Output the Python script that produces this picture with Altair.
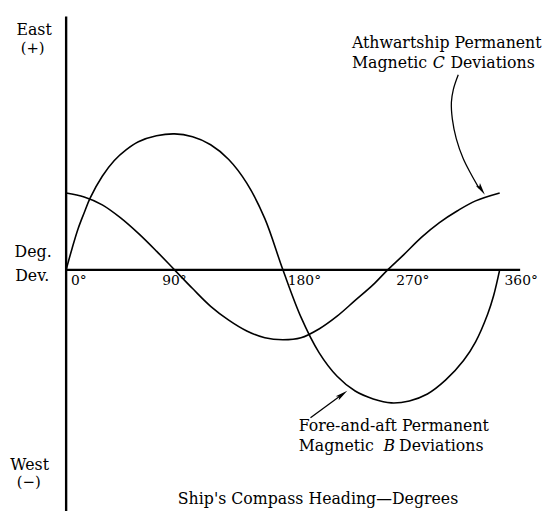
import altair as alt
import pandas as pd

# Fore-and-aft permanent magnetic B deviations (heading deg, deviation in arbitrary units)
heading_b = [0, 5, 10, 15, 20, 30, 40, 50, 60, 75, 90, 105, 120, 135, 150, 165, 180,
             195, 210, 225, 240, 255, 270, 285, 300, 315, 330, 340, 350, 355, 360]
dev_b = [0, 22, 42, 58, 73, 95, 111, 122, 130, 136, 138, 135, 127, 112, 88, 52, 0,
         -48, -84, -108, -123, -131, -135, -133, -126, -112, -92, -73, -45, -26, 0]

# Athwartship permanent magnetic C deviations
heading_c = [0, 15, 30, 45, 60, 75, 90, 105, 120, 135, 150, 165, 180, 195, 210, 225,
             240, 255, 267, 280, 295, 310, 325, 340, 360]
dev_c = [78, 74, 66, 53, 37, 19, 0, -19, -37, -51, -62, -69, -71, -69, -60, -47,
         -31, -15, 0, 15, 33, 48, 60, 70, 78]

tick_values = [0, 90, 180, 270, 360]
tick_labels = ["0°", "90°", "180°", "270°", "360°"]

# axis lines (data units)
hline_x = [0, 377]
vline_y = [257, -250]

# annotation arrows (data units)
arrow_c_x = [325.6, 321.5, 319.9, 320.7, 324.0, 329.7, 336.3, 342.8]
arrow_c_y = [198, 183, 170, 153, 133, 113, 97, 83]
arrow_b_x = [202.9, 227.5]
arrow_b_y = [-150, -128]
head_x = [344.8, 229.3]
head_y = [81.4, -126.5]
head_angle = [146, 54]

# texts
word_text = ["East", "Deg.", "Dev.", "West"]
word_x = [-26.6, -27.4, -28.2, -30.3]
word_y = [238, 13, -11, -203]
sign_text = ["(+)", "(−)"]
sign_x = [-27.8, -31.0]
sign_y = [220, -220]

note_text = ["Athwartship Permanent", "Magnetic", "Deviations",
             "Fore-and-aft Permanent", "Magnetic", "Deviations"]
note_x = [237.3, 237.3, 319.1, 193.1, 193.1, 276.5]
note_y = [225, 205, 205, -164, -184, -184]
ital_text = ["C", "B"]
ital_x = [304.4, 263.5]
ital_y = [205, -184]

title_text = ["Ship's Compass Heading—Degrees"]
title_x = [325.6]
title_y = [-238]

FONT = "DejaVu Serif"
xs = alt.Scale(domain=[0, 360], range=[59, 499], nice=False, zero=False)
ys = alt.Scale(domain=[-100, 100], range=[362, 162], nice=False, zero=False)
X = lambda f: alt.X(f, type="quantitative", scale=xs, axis=None)
Y = lambda f: alt.Y(f, type="quantitative", scale=ys, axis=None)

df_b = pd.DataFrame({"h": heading_b, "d": dev_b})
df_c = pd.DataFrame({"h": heading_c, "d": dev_c})

curve_b = alt.Chart(df_b).mark_line(color="black", strokeWidth=1.6, interpolate="catmull-rom").encode(x=X("h"), y=Y("d"))
curve_c = alt.Chart(df_c).mark_line(color="black", strokeWidth=1.6, interpolate="catmull-rom").encode(x=X("h"), y=Y("d"))

hline = alt.Chart(pd.DataFrame({"x": [hline_x[0]], "x2": [hline_x[1]], "y": [0]})).mark_rule(
    color="black", strokeWidth=2.2).encode(x=X("x"), x2="x2", y=Y("y"))
vline = alt.Chart(pd.DataFrame({"x": [0], "y": [vline_y[0]], "y2": [vline_y[1]]})).mark_rule(
    color="black", strokeWidth=2.4).encode(x=X("x"), y=Y("y"), y2="y2")

arr_c = alt.Chart(pd.DataFrame({"x": arrow_c_x, "y": arrow_c_y, "o": list(range(len(arrow_c_x)))})).mark_line(
    color="black", strokeWidth=1.3, interpolate="catmull-rom").encode(x=X("x"), y=Y("y"), order="o")
arr_b = alt.Chart(pd.DataFrame({"x": arrow_b_x, "y": arrow_b_y})).mark_line(
    color="black", strokeWidth=1.3).encode(x=X("x"), y=Y("y"))
heads = alt.Chart(pd.DataFrame({"x": head_x, "y": head_y, "a": head_angle})).mark_point(
    shape="M0,-1L0.4,1L0,0.6L-0.4,1Z", filled=True, color="black", opacity=1, size=160).encode(
    x=X("x"), y=Y("y"), angle=alt.Angle("a:Q", scale=None))

df_ticks = pd.DataFrame({"x": tick_values, "t": tick_labels, "y": [-15] * 5})
ticks_left = alt.Chart(df_ticks).transform_filter("datum.x != 90").mark_text(
    font=FONT, fontSize=14, align="left", baseline="alphabetic", dx=5, color="black").encode(
    x=X("x"), y=Y("y"), text="t:N")
ticks_mid = alt.Chart(df_ticks).transform_filter("datum.x == 90").mark_text(
    font=FONT, fontSize=14, align="center", baseline="alphabetic", dx=0, color="black").encode(
    x=X("x"), y=Y("y"), text="t:N")

words = alt.Chart(pd.DataFrame({"x": word_x, "y": word_y, "t": word_text})).mark_text(
    font=FONT, fontSize=16, align="center", baseline="alphabetic", color="black").encode(
    x=X("x"), y=Y("y"), text="t:N")
signs = alt.Chart(pd.DataFrame({"x": sign_x, "y": sign_y, "t": sign_text})).mark_text(
    font=FONT, fontSize=15, align="center", baseline="alphabetic", color="black").encode(
    x=X("x"), y=Y("y"), text="t:N")
notes = alt.Chart(pd.DataFrame({"x": note_x, "y": note_y, "t": note_text})).mark_text(
    font=FONT, fontSize=16, align="left", baseline="alphabetic", color="black").encode(
    x=X("x"), y=Y("y"), text="t:N")
itals = alt.Chart(pd.DataFrame({"x": ital_x, "y": ital_y, "t": ital_text})).mark_text(
    font=FONT, fontSize=16, fontStyle="italic", align="left", baseline="alphabetic", color="black").encode(
    x=X("x"), y=Y("y"), text="t:N")
title = alt.Chart(pd.DataFrame({"x": title_x, "y": title_y, "t": title_text})).mark_text(
    font=FONT, fontSize=16, align="right", baseline="alphabetic", color="black").encode(
    x=X("x"), y=Y("y"), text="t:N")

chart = alt.layer(curve_b, curve_c, hline, vline, arr_c, arr_b, heads,
                  ticks_left, ticks_mid, words, signs, notes, itals, title).properties(
    width=545, height=503, padding=0, autosize=alt.AutoSizeParams(type="none"),
    background="white"
).configure_view(stroke=None)

chart.save("out.html", embed_options={"renderer": "svg", "actions": False})
